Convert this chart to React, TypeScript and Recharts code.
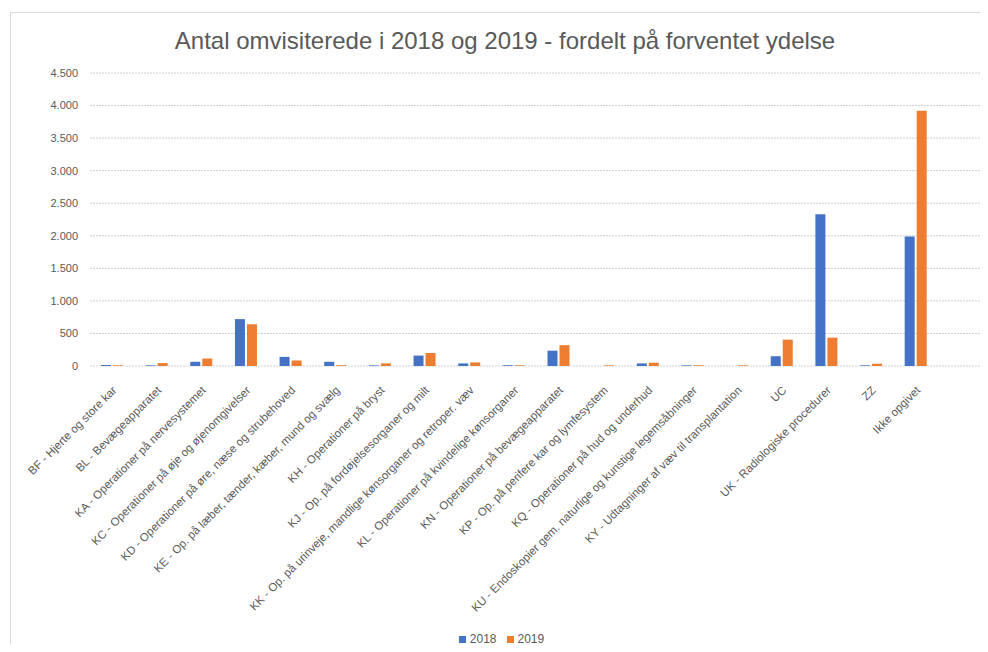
import React from 'react';
import { BarChart, Bar, XAxis, YAxis, CartesianGrid, Legend } from 'recharts';

const categories = [
  'BF - Hjerte og store kar',
  'BL - Bevægeapparatet',
  'KA - Operationer på nervesystemet',
  'KC - Operationer på øje og øjenomgivelser',
  'KD - Operationer på øre, næse og strubehoved',
  'KE - Op. på læber, tænder, kæber, mund og svælg',
  'KH - Operationer på bryst',
  'KJ - Op. på fordøjelsesorganer og milt',
  'KK - Op. på urinveje, mandlige kønsorganer og retroper. væv',
  'KL - Operationer på kvindelige kønsorganer',
  'KN - Operationer på bevægeapparatet',
  'KP - Op. på perifere kar og lymfesystem',
  'KQ - Operationer på hud og underhud',
  'KU - Endoskopier gem. naturlige og kunstige legemsåbninger',
  'KY - Udtagninger af væv til transplantation',
  'UC',
  'UK - Radiologiske procedurer',
  'ZZ',
  'Ikke opgivet',
  '',
];

const values2018 = [15, 10, 65, 720, 140, 65, 10, 160, 40, 12, 235, 0, 40, 10, 0, 150, 2330, 10, 1990, null];
const values2019 = [10, 45, 115, 640, 85, 12, 40, 200, 55, 10, 320, 10, 50, 10, 10, 405, 435, 35, 3920, null];

const yTicks = [0, 500, 1000, 1500, 2000, 2500, 3000, 3500, 4000, 4500];

const data = categories.map((name, i) => ({
  name,
  '2018': values2018[i],
  '2019': values2019[i],
}));

const FONT = '"Liberation Sans", Arial, sans-serif';
const TEXT = '#595959';

const fmt = (v: number) => String(v).replace(/\B(?=(\d{3})+(?!\d))/g, '.');

const XTick = (props: any) => {
  const { x, y, payload } = props;
  const ax = x + 5;
  const ay = y + 17;
  return (
    <text
      x={ax}
      y={ay}
      transform={`rotate(-45, ${ax}, ${ay})`}
      textAnchor="end"
      fontSize={11.5}
      fontFamily={FONT}
      fill={TEXT}
    >
      {payload.value}
    </text>
  );
};

export default function App() {
  return (
    <div style={{ position: 'relative', width: 988, height: 652, margin: -8, background: '#fff', fontFamily: FONT }}>
      <div
        style={{
          position: 'absolute',
          left: 10,
          top: 12,
          right: 0,
          bottom: 0,
          borderLeft: '1px solid #d9d9d9',
          borderTop: '1px solid #d9d9d9',
        }}
      />
      <div
        style={{
          position: 'absolute',
          left: 0,
          width: 1010,
          top: 27,
          textAlign: 'center',
          fontSize: 24,
          color: TEXT,
        }}
      >
        Antal omvisiterede i 2018 og 2019 - fordelt på forventet ydelse
      </div>
      <div style={{ position: 'absolute', left: 0, top: 0 }}>
        <BarChart
          width={988}
          height={652}
          data={data}
          margin={{ top: 73, right: 5, left: 30, bottom: 6 }}
          barSize={10}
          barGap={2}
        >
          <CartesianGrid vertical={false} stroke="#d0d0d0" strokeDasharray="2 1" />
          <XAxis
            dataKey="name"
            interval={0}
            axisLine={false}
            tickLine={false}
            height={266}
            tick={<XTick />}
          />
          <YAxis
            width={60}
            domain={[0, 4500]}
            ticks={yTicks}
            axisLine={false}
            tickLine={false}
            tickSize={0}
            tickMargin={12}
            tickFormatter={fmt}
            tick={{ fill: TEXT, fontSize: 11, fontFamily: FONT }}
          />
          <Legend
            verticalAlign="bottom"
            align="center"
            iconType="square"
            iconSize={7}
            wrapperStyle={{ fontSize: 12, fontFamily: FONT }}
            formatter={(value: string) => <span style={{ color: TEXT }}>{value}</span>}
          />
          <Bar dataKey="2018" fill="#4472C4" isAnimationActive={false} />
          <Bar dataKey="2019" fill="#ED7D31" isAnimationActive={false} />
        </BarChart>
      </div>
    </div>
  );
}
